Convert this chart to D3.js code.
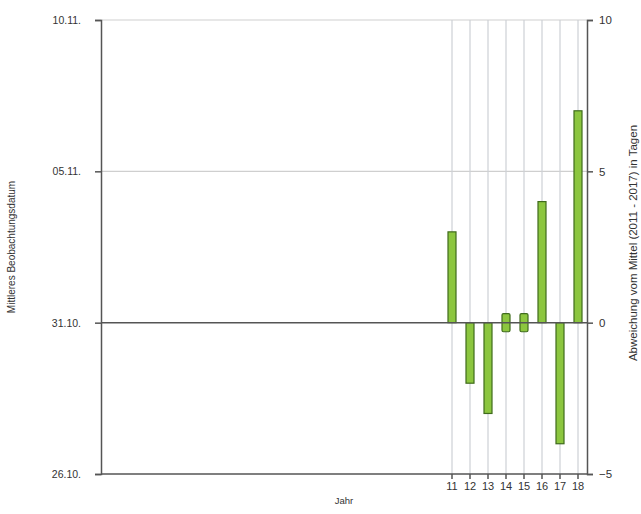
<!DOCTYPE html>
<html><head><meta charset="utf-8">
<script src="https://cdn.jsdelivr.net/npm/d3@7"></script>
<style>body{margin:0;background:#fff}svg{display:block}text{font-family:"Liberation Sans",Arial,sans-serif;fill:#333}</style>
</head><body>
<svg id="c" width="641" height="514"></svg>
<script>
// Data
const years = d3.range(92, 119).map(y => String(y % 100).padStart(2, "0")); // 1992..2018
const labeledYears = ["11","12","13","14","15","16","17","18"];
const deviation = [3, -2, -3, 0, 0, 4, -4, 7]; // days vs mean (2011-2017)
const leftTicks = [-5, 0, 5, 10];
const leftTickLabels = ["26.10.", "31.10.", "05.11.", "10.11."];
const rightTicks = [-5, 0, 5, 10];

const m = {l: 101, r: 587, t: 20, b: 474};
const svg = d3.select("#c");

const x = d3.scaleBand().domain(years).range([m.l, m.r]).paddingInner(0).paddingOuter(0);
const y = d3.scaleLinear().domain([-5, 10]).range([m.b, m.t]);

// horizontal gridlines
svg.append("g").selectAll("line").data([5, 10]).join("line")
  .attr("x1", m.l).attr("x2", m.r).attr("y1", d => y(d)).attr("y2", d => y(d))
  .attr("stroke", "#cfcfcf").attr("stroke-width", 1.2);

// vertical gridlines
svg.append("g").selectAll("line").data(labeledYears).join("line")
  .attr("x1", d => x(d) + x.bandwidth()/2).attr("x2", d => x(d) + x.bandwidth()/2)
  .attr("y1", m.t).attr("y2", m.b)
  .attr("stroke", "#cdd0d6").attr("stroke-width", 1.2);

// bars
const bw = 8, zeroHalf = 0.3;
svg.append("g").selectAll("rect").data(labeledYears.map((yr, i) => ({yr, v: deviation[i]}))).join("rect")
  .attr("x", d => x(d.yr) + x.bandwidth()/2 - bw/2)
  .attr("width", bw)
  .attr("y", d => d.v === 0 ? y(zeroHalf) : y(Math.max(0, d.v)))
  .attr("height", d => d.v === 0 ? y(-zeroHalf) - y(zeroHalf) : Math.abs(y(d.v) - y(0)))
  .attr("rx", d => d.v === 0 ? 1.5 : 0)
  .attr("fill", "#8cc63f").attr("stroke", "#3f6b1c").attr("stroke-width", 1.2);

// zero line and bottom line
svg.append("line").attr("x1", m.l).attr("x2", m.r).attr("y1", y(0)).attr("y2", y(0))
  .attr("stroke", "#555").attr("stroke-width", 1.5);
svg.append("line").attr("x1", m.l).attr("x2", m.r).attr("y1", m.b).attr("y2", m.b)
  .attr("stroke", "#555").attr("stroke-width", 1.5);

// left axis
const la = svg.append("g").attr("transform", `translate(${m.l},0)`)
  .call(d3.axisLeft(y).tickValues(leftTicks).tickSize(6).tickPadding(14)
    .tickFormat((d, i) => leftTickLabels[i]));
la.select(".domain").attr("stroke", "#555").attr("stroke-width", 1.5);
la.selectAll(".tick line").attr("stroke", "#555").attr("stroke-width", 1.5);
la.selectAll("text").attr("font-size", 10.5).style("fill", "#333");

// right axis
const ra = svg.append("g").attr("transform", `translate(${m.r},0)`)
  .call(d3.axisRight(y).tickValues(rightTicks).tickSize(6).tickPadding(6).tickFormat(d3.format("d")));
ra.select(".domain").attr("stroke", "#555").attr("stroke-width", 1.5);
ra.selectAll(".tick line").attr("stroke", "#555").attr("stroke-width", 1.5);
ra.selectAll("text").attr("font-size", 11.5).style("fill", "#333");

// bottom axis (labeled years only)
const ba = svg.append("g").attr("transform", `translate(0,${m.b})`)
  .call(d3.axisBottom(x).tickValues(labeledYears).tickSize(5).tickPadding(3));
ba.select(".domain").remove();
ba.selectAll(".tick line").attr("stroke", "#555").attr("stroke-width", 1.5);
ba.selectAll("text").attr("font-size", 11).style("fill", "#333");

// titles
const cy = (m.t + m.b) / 2;
svg.append("text").attr("transform", `translate(15,${cy}) rotate(-90)`)
  .attr("text-anchor", "middle").attr("font-size", 10).text("Mittleres Beobachtungsdatum");
svg.append("text").attr("transform", `translate(637,${cy - 4}) rotate(-90)`)
  .attr("text-anchor", "middle").attr("font-size", 11.5).text("Abweichung vom Mittel (2011 - 2017) in Tagen");
svg.append("text").attr("x", (m.l + m.r)/2).attr("y", 504)
  .attr("text-anchor", "middle").attr("font-size", 9.5).text("Jahr");
</script>
</body></html>
